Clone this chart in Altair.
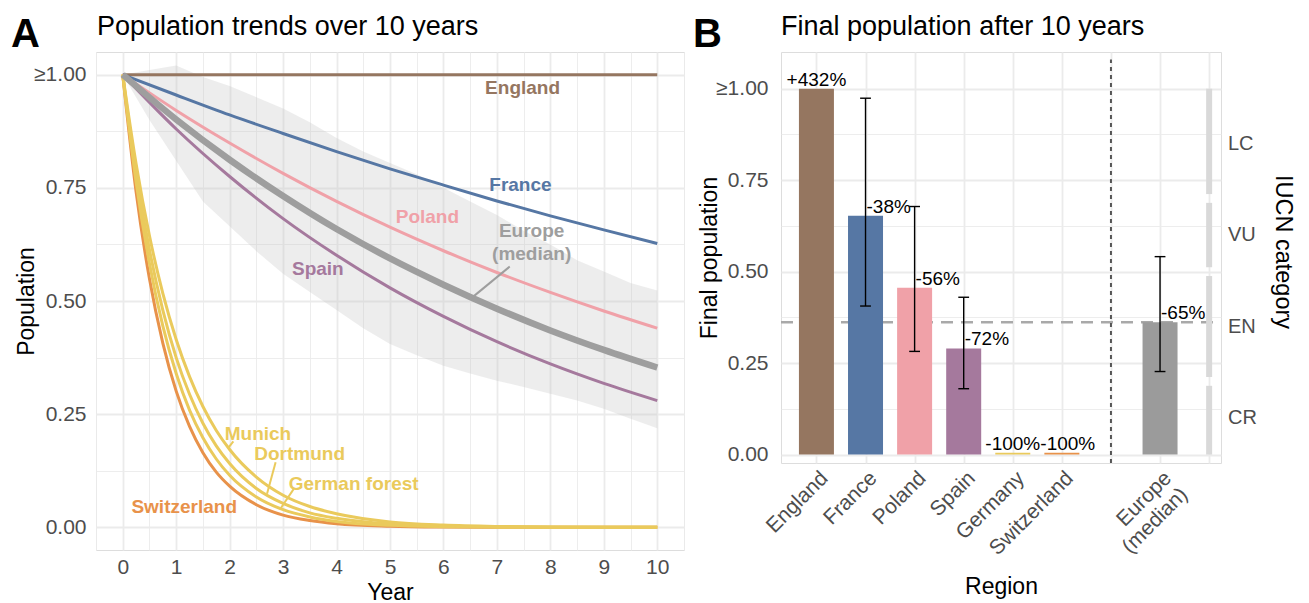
import json
import altair as alt
import pandas as pd

FONT = "Liberation Sans"
GRID = "#ebebeb"
TICK_COL = "#4d4d4d"

# ---------------- Panel A data ----------------
years = [0, 1, 2, 3, 4, 5, 6, 7, 8, 9, 10]
england = [1.0, 1.0, 1.0, 1.0, 1.0, 1.0, 1.0, 1.0, 1.0, 1.0, 1.0]
france = [1.0, 0.955, 0.911, 0.870, 0.830, 0.792, 0.756, 0.721, 0.688, 0.657, 0.627]
poland = [1.0, 0.921, 0.849, 0.782, 0.720, 0.663, 0.611, 0.563, 0.519, 0.478, 0.440]
spain = [1.0, 0.880, 0.775, 0.682, 0.601, 0.529, 0.466, 0.410, 0.361, 0.318, 0.280]
europe_median = [1.0, 0.901, 0.812, 0.732, 0.659, 0.594, 0.536, 0.483, 0.435, 0.392, 0.353]

fast_years = [0, 0.25, 0.5, 0.75, 1, 1.25, 1.5, 1.75, 2, 2.5, 3, 3.5, 4, 5, 6, 7, 8, 9, 10]
switzerland = [1, 0.741, 0.549, 0.407, 0.301, 0.223, 0.165, 0.122, 0.091, 0.050, 0.027, 0.015, 0.008, 0.0025, 0.0007, 0.0002, 0, 0, 0]
german_forest = [1, 0.763, 0.583, 0.445, 0.340, 0.259, 0.198, 0.151, 0.115, 0.067, 0.039, 0.023, 0.013, 0.0045, 0.0015, 0.0005, 0.0002, 0, 0]
dortmund = [1, 0.783, 0.613, 0.480, 0.375, 0.294, 0.230, 0.180, 0.141, 0.086, 0.053, 0.032, 0.020, 0.0074, 0.0028, 0.001, 0.0004, 0.0001, 0]
munich = [1, 0.803, 0.644, 0.517, 0.415, 0.333, 0.267, 0.214, 0.172, 0.111, 0.071, 0.046, 0.030, 0.012, 0.005, 0.002, 0.0009, 0.0004, 0.0002]

ribbon_years = [0, 0.5, 1, 1.5, 2, 2.5, 3, 3.5, 4, 4.5, 5, 5.5, 6, 6.5, 7, 7.5, 8, 8.5, 9, 9.5, 10]
ribbon_hi = [1.0, 1.01, 1.02, 0.995, 0.975, 0.95, 0.925, 0.895, 0.86, 0.83, 0.805, 0.78, 0.75, 0.72, 0.69, 0.655, 0.625, 0.59, 0.565, 0.54, 0.523]
ribbon_lo = [1.0, 0.9, 0.81, 0.72, 0.665, 0.61, 0.56, 0.52, 0.48, 0.44, 0.405, 0.38, 0.357, 0.34, 0.324, 0.31, 0.295, 0.28, 0.262, 0.24, 0.219]

series_names = ["England", "France", "Poland", "Spain", "Europe", "Switzerland", "German forest", "Dortmund", "Munich"]
series_colors = ["#957660", "#5677a4", "#f0a1a8", "#a5799d", "#9e9e9e", "#e8924a", "#eaca5c", "#eaca5c", "#eaca5c"]

# direct labels (text, series for colour, year, value)
label_text = ["England", "France", "Poland", "Spain", "Europe", "(median)", "Munich", "Dortmund", "German forest", "Switzerland"]
label_series = ["England", "France", "Poland", "Spain", "Europe", "Europe", "Munich", "Dortmund", "German forest", "Switzerland"]
label_year = [7.48, 7.44, 5.7, 3.65, 7.65, 7.65, 2.53, 3.31, 4.32, 1.15]
label_value = [0.971, 0.757, 0.686, 0.571, 0.655, 0.604, 0.206, 0.161, 0.096, 0.044]

leader_series = ["Europe", "Munich", "Dortmund", "German forest"]
leader_year = [7.24, 2.07, 2.86, 3.2]
leader_value = [0.576, 0.19, 0.144, 0.085]
leader_year2 = [6.54, 1.97, 2.7, 2.95]
leader_value2 = [0.508, 0.175, 0.074, 0.041]

# ---------------- Panel B data ----------------
x_slots = ["England", "France", "Poland", "Spain", "Germany", "Switzerland", "", "Europe (median)", ""]
axis_labels = ["England", "France", "Poland", "Spain", "Germany", "Switzerland", "", ["Europe", "(median)"], ""]
regions = ["England", "France", "Poland", "Spain", "Germany", "Switzerland", "Europe (median)"]
region_colors = ["#957660", "#5677a4", "#f0a1a8", "#a5799d", "#eaca5c", "#e8924a", "#9b9b9b"]
final_pop = [1.0, 0.653, 0.456, 0.290, 0.005, 0.005, 0.362]
err_lo = [None, 0.406, 0.282, 0.180, None, None, 0.227]
err_hi = [None, 0.974, 0.678, 0.430, None, None, 0.541]
pct_labels = ["+432%", "-38%", "-56%", "-72%", "-100%", "-100%", "-65%"]

iucn_cats = ["LC", "VU", "EN", "CR"]
iucn_lower = [0.7, 0.5, 0.2, 0.0]
iucn_upper = [1.0, 0.7, 0.5, 0.2]

# ---------------- build tables ----------------
rows = []
for name, vals in [("England", england), ("France", france), ("Poland", poland), ("Spain", spain)]:
    for t, v in zip(years, vals):
        rows.append({"series": name, "year": t, "value": v})
slow_df = pd.DataFrame(rows)
eu_df = pd.DataFrame({"series": "Europe", "year": years, "value": europe_median})
rows = []
for name, vals in [("German forest", german_forest), ("Dortmund", dortmund), ("Munich", munich)]:
    for t, v in zip(fast_years, vals):
        rows.append({"series": name, "year": t, "value": v})
yellow_df = pd.DataFrame(rows)
swiss_df = pd.DataFrame({"series": "Switzerland", "year": fast_years, "value": switzerland})
ribbon_df = pd.DataFrame({"year": ribbon_years, "lo": ribbon_lo, "hi": ribbon_hi})
lab_df = pd.DataFrame({"text": label_text, "series": label_series, "year": label_year, "value": label_value})
lead_df = pd.DataFrame({"series": leader_series, "year": leader_year, "value": leader_value,
                        "year2": leader_year2, "value2": leader_value2})

W_A, H_A = 588, 498
W_B, H_B = 440, 411
Y_B_MIN, Y_B_MAX = -0.023, 1.1003

colA = alt.Color("series:N", scale=alt.Scale(domain=series_names, range=series_colors), legend=None)

xsA = alt.Scale(domain=[-0.5, 10.5], nice=False, zero=False)
ysA = alt.Scale(domain=[-0.05, 1.05], nice=False, zero=False)

axisXA = alt.Axis(
    title="Year", values=[i * 0.5 for i in range(-1, 22)],
    labelExpr="(datum.value % 1 === 0 && datum.value >= 0 && datum.value <= 10) ? datum.value : ''",
    gridWidth={"condition": {"test": "datum.value % 1 === 0", "value": 1.8}, "value": 0.9},
    labelPadding=6, titleY=49, titleBaseline="alphabetic",
)
y_lab_expr = "datum.value === 1 ? '≥1.00' : (datum.value % 0.25 === 0 ? format(datum.value, '.2f') : '')"
axisYA = alt.Axis(
    title="Population", values=[i * 0.125 for i in range(0, 9)], labelExpr=y_lab_expr,
    gridWidth={"condition": {"test": "datum.value % 0.25 === 0", "value": 1.8}, "value": 0.9},
    labelPadding=10, titleX=-70, titleY=H_A / 2, titleAngle=270, titleAlign="center", titleBaseline="middle",
)

XA = alt.X("year:Q", scale=xsA, axis=axisXA)
YA = alt.Y("value:Q", scale=ysA, axis=axisYA)

ribbon = alt.Chart(ribbon_df).mark_area(color="#c4c4c4", opacity=0.3).encode(
    x=XA, y=alt.Y("lo:Q", scale=ysA, axis=axisYA), y2="hi:Q")
slow_lines = alt.Chart(slow_df).mark_line(strokeWidth=3, interpolate="monotone").encode(
    x=XA, y=YA, color=colA, detail="series:N")
swiss_line = alt.Chart(swiss_df).mark_line(strokeWidth=3, interpolate="monotone").encode(
    x=XA, y=YA, color=colA)
yellow_lines = alt.Chart(yellow_df).mark_line(strokeWidth=3, interpolate="monotone").encode(
    x=XA, y=YA, color=colA, detail="series:N")
eu_line = alt.Chart(eu_df).mark_line(strokeWidth=6.5, interpolate="monotone").encode(
    x=XA, y=YA, color=colA)
leaders = alt.Chart(lead_df).mark_rule(strokeWidth=2).encode(
    x=XA, y=YA, x2="year2:Q", y2="value2:Q", color=colA)
labels_a = alt.Chart(lab_df).mark_text(fontWeight="bold", fontSize=19, font=FONT).encode(
    x=XA, y=YA, text="text:N", color=colA)
letter_a = alt.Chart(pd.DataFrame({"t": ["A"]})).mark_text(
    fontWeight="bold", fontSize=40, font=FONT, align="left", baseline="alphabetic", color="black"
).encode(text="t:N", x=alt.value(-85), y=alt.value(-5))
title_a = alt.Chart(pd.DataFrame({"t": ["Population trends over 10 years"]})).mark_text(
    fontSize=27, font=FONT, align="left", baseline="alphabetic", color="black"
).encode(text="t:N", x=alt.value(1), y=alt.value(-17))

panel_a = alt.layer(ribbon, slow_lines, swiss_line, yellow_lines, eu_line, leaders, labels_a,
                    letter_a, title_a).properties(width=W_A, height=H_A)

# ---------------- Panel B ----------------
slot = {name: i + 1 for i, name in enumerate(x_slots) if name}
bar_df = pd.DataFrame({"region": regions, "final": final_pop, "lo": err_lo, "hi": err_hi, "pct": pct_labels})
bar_df["slot"] = [slot[r] for r in regions]
bar_df["zero"] = 0.0
# small nudge so the two adjacent "-100%" labels do not collide
bar_df["label_x"] = bar_df["slot"] + [0.12 if r == "Switzerland" else 0.0 for r in regions]
err_df = bar_df.dropna(subset=["lo"]).copy()
err_df["cap_l"] = err_df["slot"] - 0.11
err_df["cap_r"] = err_df["slot"] + 0.11
centered_df = bar_df[bar_df["lo"].isna()]
left_df = bar_df[bar_df["lo"].notna()]
median_df = bar_df[bar_df["region"] == "Europe (median)"]
sep_slot = x_slots.index("") + 1
sep_df = pd.DataFrame({"slot": [sep_slot], "lo": [Y_B_MIN], "hi": [1.08]})
gap = 0.012
iucn_df = pd.DataFrame({"cat": iucn_cats, "lower": iucn_lower, "upper": iucn_upper})
iucn_df["lo"] = [l + gap if l > 0 else l for l in iucn_lower]
iucn_df["hi"] = [u - gap if u < 1 else u for u in iucn_upper]
iucn_df["mid"] = (iucn_df["lower"] + iucn_df["upper"]) / 2
iucn_df["slot"] = len(x_slots)

xsB = alt.Scale(domain=[0.38, 9.14], nice=False, zero=False)
ysB = alt.Scale(domain=[Y_B_MIN, Y_B_MAX], nice=False, zero=False)
axisXB = alt.Axis(
    title="Region", values=list(range(1, len(x_slots) + 1)),
    labelExpr=json.dumps(axis_labels, ensure_ascii=False) + "[datum.value - 1]",
    gridWidth=1.8, labelAngle=315, labelAlign="right", labelBaseline="top", labelPadding=4,
    titleY=130, titleBaseline="alphabetic",
)
axisYB = alt.Axis(
    title="Final population", values=[i * 0.125 for i in range(0, 9)], labelExpr=y_lab_expr,
    gridWidth={"condition": {"test": "datum.value % 0.25 === 0", "value": 1.8}, "value": 0.9},
    labelPadding=13, titleX=-72, titleY=H_B / 2, titleAngle=270, titleAlign="center", titleBaseline="middle",
)
XB = alt.X("slot:Q", scale=xsB, axis=axisXB)
colB = alt.Color("region:N", scale=alt.Scale(domain=regions, range=region_colors), legend=None)

hline = alt.Chart(median_df).mark_rule(color="#a9a9a9", strokeWidth=2.5, strokeDash=[12, 8]).encode(
    y=alt.Y("final:Q", scale=ysB, axis=axisYB), x=alt.value(0), x2=alt.value(W_B))
bars = alt.Chart(bar_df).mark_bar(size=35, orient="vertical").encode(
    x=XB, y=alt.Y("final:Q", scale=ysB, axis=axisYB), y2="zero:Q", color=colB)
err_stem = alt.Chart(err_df).mark_rule(color="black", strokeWidth=1.4).encode(
    x=XB, y=alt.Y("lo:Q", scale=ysB, axis=axisYB), y2="hi:Q")
cap_lo = alt.Chart(err_df).mark_rule(color="black", strokeWidth=1.4).encode(
    x=alt.X("cap_l:Q", scale=xsB, axis=axisXB), x2="cap_r:Q", y=alt.Y("lo:Q", scale=ysB, axis=axisYB))
cap_hi = alt.Chart(err_df).mark_rule(color="black", strokeWidth=1.4).encode(
    x=alt.X("cap_l:Q", scale=xsB, axis=axisXB), x2="cap_r:Q", y=alt.Y("hi:Q", scale=ysB, axis=axisYB))
pct_c = alt.Chart(centered_df).mark_text(fontSize=19, font=FONT, color="black", align="center",
                                         baseline="alphabetic", dy=-3).encode(
    x=alt.X("label_x:Q", scale=xsB, axis=axisXB), y=alt.Y("final:Q", scale=ysB, axis=axisYB), text="pct:N")
pct_l = alt.Chart(left_df).mark_text(fontSize=19, font=FONT, color="black", align="left",
                                     baseline="alphabetic", dx=1, dy=-3).encode(
    x=XB, y=alt.Y("final:Q", scale=ysB, axis=axisYB), text="pct:N")
sep = alt.Chart(sep_df).mark_rule(color="#555555", strokeWidth=2, strokeDash=[4, 4]).encode(
    x=XB, y=alt.Y("lo:Q", scale=ysB, axis=axisYB), y2="hi:Q")
iucn_bars = alt.Chart(iucn_df).mark_rule(color="#d9d9d9", strokeWidth=6).encode(
    x=XB, y=alt.Y("lo:Q", scale=ysB, axis=axisYB), y2="hi:Q")
iucn_text = alt.Chart(iucn_df).mark_text(fontSize=20, font=FONT, color=TICK_COL, align="left",
                                         baseline="middle").encode(
    x=alt.value(447), y=alt.Y("mid:Q", scale=ysB, axis=axisYB), text="cat:N")
iucn_title = alt.Chart(pd.DataFrame({"t": ["IUCN category"]})).mark_text(
    fontSize=23.5, font=FONT, color="black", angle=90, align="center", baseline="middle"
).encode(text="t:N", x=alt.value(502), y=alt.value(200))
letter_b = alt.Chart(pd.DataFrame({"t": ["B"]})).mark_text(
    fontWeight="bold", fontSize=40, font=FONT, align="left", baseline="alphabetic", color="black"
).encode(text="t:N", x=alt.value(-88), y=alt.value(-5))
title_b = alt.Chart(pd.DataFrame({"t": ["Final population after 10 years"]})).mark_text(
    fontSize=27, font=FONT, align="left", baseline="alphabetic", color="black"
).encode(text="t:N", x=alt.value(0), y=alt.value(-17))

panel_b = alt.layer(hline, bars, err_stem, cap_lo, cap_hi, pct_c, pct_l, sep, iucn_bars, iucn_text,
                    iucn_title, letter_b, title_b).properties(width=W_B, height=H_B)

chart = alt.hconcat(panel_a, panel_b, spacing=7).resolve_scale(
    color="independent", x="independent", y="independent"
).properties(
    padding={"left": 2, "top": 4, "right": 2, "bottom": 0},
    background="white",
).configure_view(stroke=None).configure(font=FONT).configure_axis(
    domain=False, ticks=False, gridColor=GRID, labelFont=FONT, labelFontSize=21, labelColor=TICK_COL,
    titleFont=FONT, titleFontSize=23, titleFontWeight="normal", titleColor="black",
    labelOverlap=False, labelFlush=False, labelBound=False,
)

chart.save("out.html", embed_options={"renderer": "svg", "actions": False})
